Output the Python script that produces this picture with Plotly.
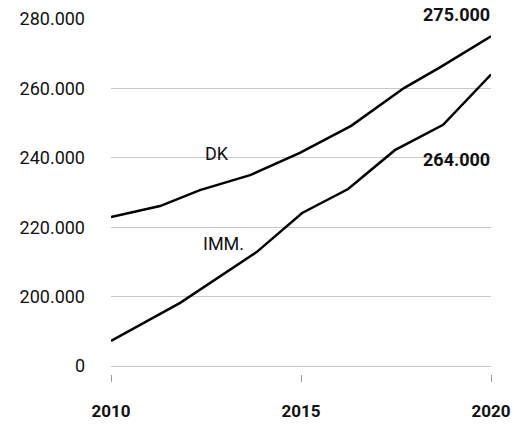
import plotly.graph_objects as go

# Population series (year, persons)
dk_years = [2010.0, 2011.29, 2012.34, 2013.66, 2014.97, 2016.32, 2017.71, 2018.68, 2020.0]
dk_values = [222900, 226100, 230700, 235000, 241400, 249200, 260100, 266200, 275000]

imm_years = [2010.0, 2011.82, 2013.84, 2015.03, 2016.24, 2017.47, 2018.74, 2020.0]
imm_values = [187200, 198200, 212900, 224100, 231000, 242200, 249500, 264000]

# Axis ticks: the lowest gridline stands for the broken-axis baseline "0"
y_tick_vals = [180000, 200000, 220000, 240000, 260000, 280000]
y_tick_text = ["0", "200.000", "220.000", "240.000", "260.000", "280.000"]
x_tick_vals = [2010, 2015, 2020]
x_tick_text = ["2010", "2015", "2020"]

FONT = "Roboto"
INK = "#111111"


def fmt(v):
    return f"{v:,}".replace(",", ".")


fig = go.Figure()
for xs, ys in [(dk_years, dk_values), (imm_years, imm_values)]:
    fig.add_trace(go.Scatter(
        x=xs, y=ys, mode="lines",
        line=dict(color="#000000", width=2.5),
        hoverinfo="skip", showlegend=False,
    ))

# Series names
fig.add_annotation(x=2012.79, y=241200, text="DK", showarrow=False,
                   xanchor="center", yanchor="middle",
                   font=dict(family=FONT, size=18, color=INK))
fig.add_annotation(x=2012.96, y=215200, text="IMM.", showarrow=False,
                   xanchor="center", yanchor="middle",
                   font=dict(family=FONT, size=18, color=INK))

# End values
fig.add_annotation(x=2020, y=dk_values[-1], text=fmt(dk_values[-1]),
                   showarrow=False, xanchor="right", yanchor="middle",
                   yshift=22, xshift=1,
                   font=dict(family=FONT, size=18, color=INK, weight="bold"))
fig.add_annotation(x=2020, y=imm_values[-1], text=fmt(imm_values[-1]),
                   showarrow=False, xanchor="right", yanchor="middle",
                   yshift=-85, xshift=1,
                   font=dict(family=FONT, size=18, color=INK, weight="bold"))

fig.update_layout(
    width=514, height=424,
    margin=dict(l=111, r=23, t=19, b=50, autoexpand=False),
    paper_bgcolor="white", plot_bgcolor="white",
    xaxis=dict(
        range=[2010, 2020], tickvals=x_tick_vals, ticktext=x_tick_text,
        showgrid=False, zeroline=False, showline=False, automargin=False,
        ticks="outside", ticklen=7, tickwidth=1, tickcolor="#999999",
        tickfont=dict(family=FONT, size=17, color=INK, weight="bold"),
        ticklabelstandoff=15,
    ),
    yaxis=dict(
        range=[177700, 280000], tickvals=y_tick_vals, ticktext=y_tick_text,
        showgrid=True, gridcolor="#c8c8c8", gridwidth=1, automargin=False,
        zeroline=False, showline=False, ticks="",
        tickfont=dict(family=FONT, size=18, color=INK),
        ticklabelstandoff=25,
    ),
)

fig.write_html("out.html")
